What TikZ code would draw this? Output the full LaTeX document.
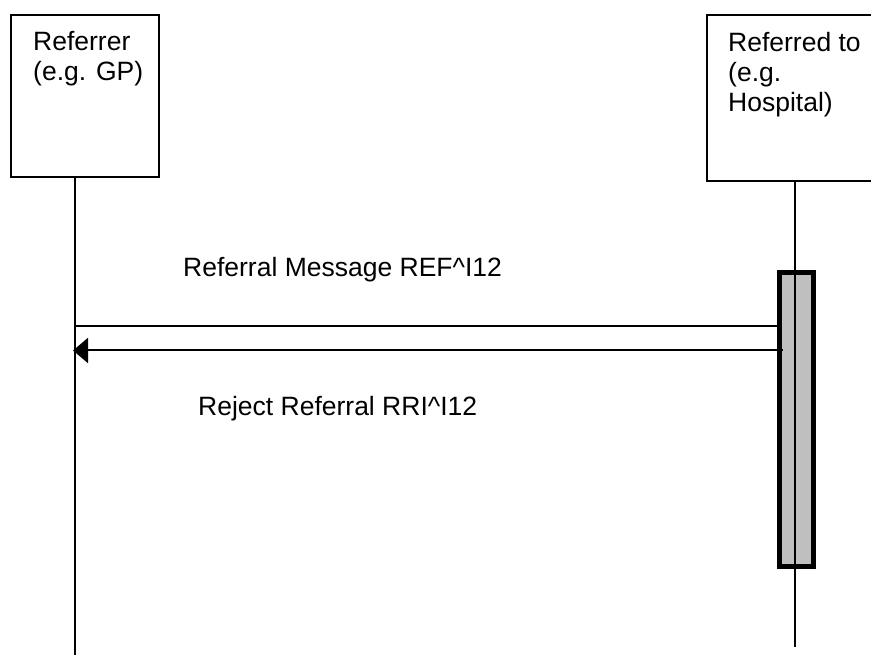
\documentclass[tikz,border=0pt]{standalone}
\usepackage{fontspec}
\setmainfont{Liberation Sans}
\usetikzlibrary{arrows.meta}
\begin{document}
\begin{tikzpicture}[x=1pt,y=-1pt,
  every node/.style={font=\fontsize{26.5}{30}\selectfont},
  actorbox/.style={draw=black,line width=2.5pt,fill=white,inner sep=0pt,outer sep=0pt},
  boxtext/.style={align=left,anchor=base west,inner sep=0pt},
  lifeline/.style={draw=black,line width=2pt},
  activation/.style={draw=black,line width=5pt,fill=black!25,inner sep=0pt},
  msgline/.style={draw=black,line width=2pt},
  msgtext/.style={anchor=base west,inner sep=0pt},
  replytip/.style={-{Triangle[length=15pt,width=25pt]}}]
  \useasboundingbox (0,0) rectangle (871,655);
  \clip (0,0) rectangle (871,655);

  % actor boxes (labels placed by the baseline of their last line)
  \node[actorbox,minimum width=148pt,minimum height=162pt] (refbox) at (85,96) {};
  \node[boxtext] (reftext) at (33,81) {Referrer\\(e.g. GP)};
  \node[actorbox,minimum width=193pt,minimum height=166pt] (hospbox) at (803.5,98) {};
  \node[boxtext] (hosptext) at (728,112) {Referred to\\(e.g.\\Hospital)};

  % lifeline end points
  \coordinate (lend) at (75,655);
  \coordinate (rend) at (795,647);

  % activation bar on the receiving side
  \node[activation,minimum width=34.5pt,minimum height=294pt] (actbar) at (796.25,419.5) {};

  % lifelines
  \draw[lifeline] (refbox.south -| lend) -- (lend);
  \draw[lifeline] (hospbox.south -| rend) -- (rend);

  % messages
  \coordinate (m1l) at (75,326);
  \coordinate (m2l) at (73,350.5);
  \draw[msgline] (actbar.west |- m1l) -- (m1l);
  \draw[msgline,replytip] ([xshift=6pt]actbar.west |- m2l) -- (m2l);

  \node[msgtext] (m1text) at (183,277) {Referral Message REF\textasciicircum I12};
  \node[msgtext] (m2text) at (198,415) {Reject Referral RRI\textasciicircum I12};
\end{tikzpicture}
\end{document}
